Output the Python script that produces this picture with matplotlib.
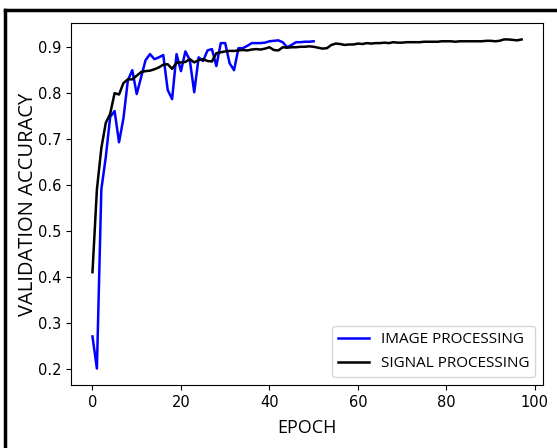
import matplotlib
matplotlib.use("Agg")
import matplotlib.pyplot as plt
from matplotlib.lines import Line2D

# ======================================
# DATOS
# ======================================

image_acc = [
    0.27, 0.20, 0.59, 0.66, 0.748, 0.761, 0.693, 0.745, 0.828, 0.850,
    0.798, 0.835, 0.872, 0.885, 0.874, 0.878, 0.883, 0.807, 0.787, 0.885,
    0.848, 0.891, 0.872, 0.802, 0.878, 0.870, 0.893, 0.896, 0.859, 0.909,
    0.909, 0.865, 0.850, 0.898, 0.898, 0.903, 0.909, 0.909, 0.909, 0.910,
    0.913, 0.914, 0.915, 0.911, 0.900, 0.905, 0.911, 0.911, 0.912, 0.912,
    0.913
]

signal_acc = [
    0.41, 0.59, 0.68, 0.735, 0.755, 0.800, 0.797, 0.822, 0.830, 0.830,
    0.838, 0.846, 0.848, 0.849, 0.852, 0.856, 0.862, 0.863, 0.853, 0.866,
    0.867, 0.868, 0.874, 0.867, 0.872, 0.874, 0.870, 0.869, 0.887, 0.889,
    0.891, 0.892, 0.892, 0.893, 0.894, 0.893, 0.895, 0.896, 0.895, 0.897,
    0.900, 0.894, 0.893, 0.900, 0.899, 0.900, 0.900, 0.901, 0.901, 0.902,
    0.901, 0.899, 0.897, 0.898, 0.905, 0.908, 0.907, 0.905, 0.906, 0.906,
    0.908, 0.907, 0.909, 0.908, 0.909, 0.909, 0.910, 0.909, 0.911, 0.910,
    0.910, 0.911, 0.911, 0.911, 0.911, 0.912, 0.912, 0.912, 0.912, 0.913,
    0.913, 0.913, 0.912, 0.913, 0.913, 0.913, 0.913, 0.913, 0.913, 0.914,
    0.914, 0.913, 0.914, 0.917, 0.917, 0.916, 0.915, 0.917
]

image_epochs = list(range(len(image_acc)))
signal_epochs = list(range(len(signal_acc)))

LABEL_FONT = ["Open Sans", "DejaVu Sans"]

# ======================================
# FIGURA
# ======================================

fig = plt.figure(figsize=(5.57, 4.48), dpi=100)
ax = fig.add_axes([0.1275, 0.1406, 0.8475, 0.8081])

ax.plot(image_epochs, image_acc, color="blue", linewidth=1.8,
        label="IMAGE PROCESSING")
ax.plot(signal_epochs, signal_acc, color="black", linewidth=1.8,
        label="SIGNAL PROCESSING")

ax.set_xlabel("EPOCH", fontsize=13, family=LABEL_FONT, labelpad=7)
ax.set_ylabel("VALIDATION ACCURACY", fontsize=14.5, family=LABEL_FONT,
              labelpad=0)
ax.tick_params(labelsize=10.5)

leg = ax.legend(loc="lower right", prop={"family": LABEL_FONT, "size": 11},
                labelspacing=0.6, borderaxespad=0.5)

# borde negro de la imagen original
fig.add_artist(Line2D([0.009, 1.0], [0.978, 0.978], color="black",
                      linewidth=2.5, transform=fig.transFigure))
fig.add_artist(Line2D([0.009, 0.009], [0.0, 0.978], color="black",
                      linewidth=2.5, transform=fig.transFigure))

plt.savefig("out.png", dpi=100)
plt.close()
